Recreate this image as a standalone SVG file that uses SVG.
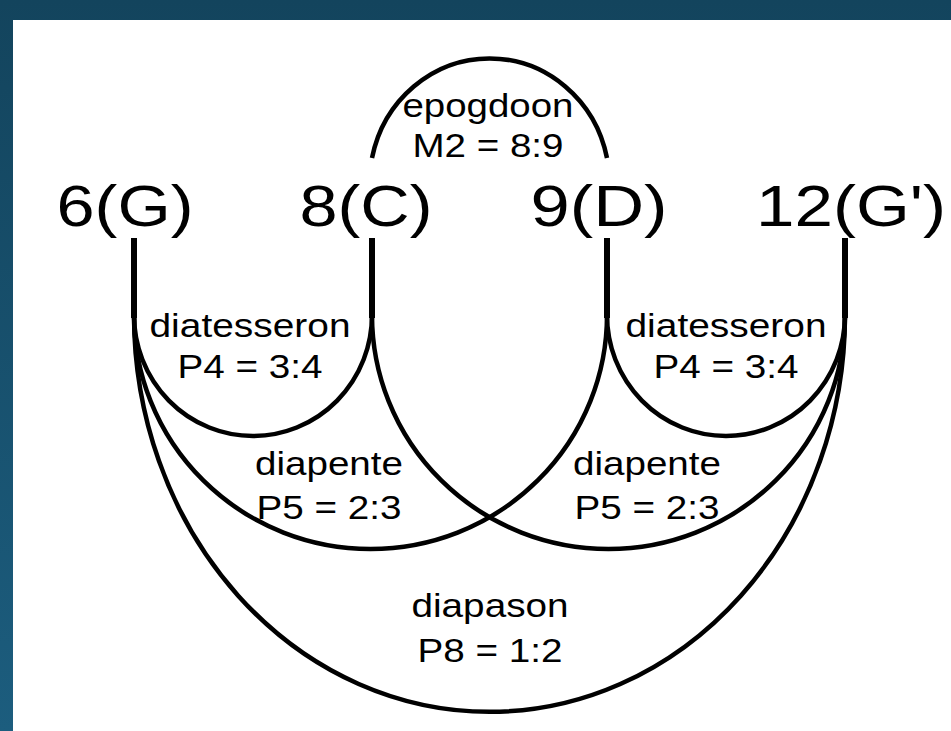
<svg xmlns="http://www.w3.org/2000/svg" width="951" height="731" viewBox="0 0 951 731">
<defs>
<linearGradient id="bg" x1="0" y1="0" x2="0" y2="1">
<stop offset="0" stop-color="#13445d"/>
<stop offset="1" stop-color="#1c5d7e"/>
</linearGradient>
<style>
.node text{font-family:"Liberation Sans",Arial,sans-serif;font-size:58px;fill:#000;text-anchor:middle}
.lbl{font-family:"Liberation Sans",Arial,sans-serif;font-size:33px;fill:#000;text-anchor:middle}
.arc{fill:none;stroke:#000;stroke-width:4.5;stroke-linecap:butt}
.stem{fill:none;stroke:#000;stroke-width:6}
</style>
</defs>
<rect x="0" y="0" width="951" height="731" fill="url(#bg)"/>
<rect x="13" y="20" width="938" height="711" fill="#fff"/>
<g id="connectors">
<path class="stem" d="M134,238 V318"/>
<path class="stem" d="M372,238 V318"/>
<path class="stem" d="M607,238 V318"/>
<path class="stem" d="M845,238 V318"/>
<path class="arc" d="M372,158 A120,125 0 0 1 607,158"/>
<path class="arc" d="M134,315 A119,121 0 0 0 372,315"/>
<path class="arc" d="M607,315 A119,121 0 0 0 845,315"/>
<path class="arc" d="M134,315 A236.5,234 0 0 0 607,315"/>
<path class="arc" d="M372,315 A236.5,234 0 0 0 845,315"/>
<path class="arc" d="M134,315 A355.5,397 0 0 0 845,315"/>
<text class="lbl" x="488" y="117" textLength="171" lengthAdjust="spacingAndGlyphs">epogdoon</text>
<text class="lbl" x="488" y="157" textLength="151" lengthAdjust="spacingAndGlyphs">M2 = 8:9</text>
<text class="lbl" x="250" y="337" textLength="201" lengthAdjust="spacingAndGlyphs">diatesseron</text>
<text class="lbl" x="250" y="378" textLength="145" lengthAdjust="spacingAndGlyphs">P4 = 3:4</text>
<text class="lbl" x="726" y="337" textLength="201" lengthAdjust="spacingAndGlyphs">diatesseron</text>
<text class="lbl" x="726" y="378" textLength="145" lengthAdjust="spacingAndGlyphs">P4 = 3:4</text>
<text class="lbl" x="329" y="475" textLength="148" lengthAdjust="spacingAndGlyphs">diapente</text>
<text class="lbl" x="329" y="519" textLength="145" lengthAdjust="spacingAndGlyphs">P5 = 2:3</text>
<text class="lbl" x="647" y="475" textLength="148" lengthAdjust="spacingAndGlyphs">diapente</text>
<text class="lbl" x="647" y="519" textLength="145" lengthAdjust="spacingAndGlyphs">P5 = 2:3</text>
<text class="lbl" x="490" y="617" textLength="157" lengthAdjust="spacingAndGlyphs">diapason</text>
<text class="lbl" x="490" y="662" textLength="145" lengthAdjust="spacingAndGlyphs">P8 = 1:2</text>
</g>
<g id="node-6G" class="node"><text x="125" y="226" textLength="137" lengthAdjust="spacingAndGlyphs">6(G)</text></g>
<g id="node-8C" class="node"><text x="366" y="226" textLength="133" lengthAdjust="spacingAndGlyphs">8(C)</text></g>
<g id="node-9D" class="node"><text x="599" y="226" textLength="137" lengthAdjust="spacingAndGlyphs">9(D)</text></g>
<g id="node-12G" class="node"><text x="851" y="226" textLength="190" lengthAdjust="spacingAndGlyphs">12(G')</text></g>
</svg>
